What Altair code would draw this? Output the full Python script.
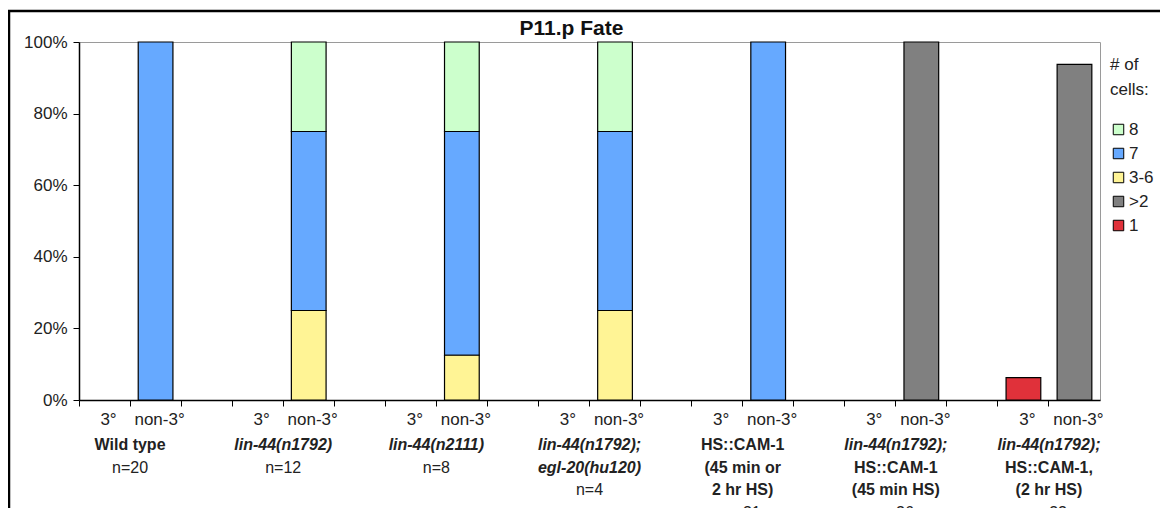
import altair as alt
import pandas as pd

# ---------------- data ----------------
groups = ["Wild type", "lin-44(n1792)", "lin-44(n2111)",
          "lin-44(n1792); egl-20(hu120)", "HS::CAM-1 (45 min or 2 hr HS)",
          "lin-44(n1792); HS::CAM-1 (45 min HS)", "lin-44(n1792); HS::CAM-1, (2 hr HS)"]
positions = ["3°", "non-3°"]

# shares per bar, ordered group by group: [3°, non-3°]
share_8   = [0, 0,    0, 0.25,  0, 0.25,  0, 0.25,  0, 0,    0, 0,    0,      0]
share_7   = [0, 1.0,  0, 0.50,  0, 0.625, 0, 0.50,  0, 1.0,  0, 0,    0,      0]
share_3_6 = [0, 0,    0, 0.25,  0, 0.125, 0, 0.25,  0, 0,    0, 0,    0,      0]
share_gt2 = [0, 0,    0, 0,     0, 0,     0, 0,     0, 0,    0, 1.0,  0,      0.9375]
share_1   = [0, 0,    0, 0,     0, 0,     0, 0,     0, 0,    0, 0,    0.0625, 0]

cell_classes = ["8", "7", "3-6", ">2", "1"]
class_colors = ["#CCFFCC", "#66A9FF", "#FFF495", "#808080", "#E0313A"]
stack_rank = {"1": 0, ">2": 1, "3-6": 2, "7": 3, "8": 4}

# label lines under each group: (group index, line number, text, style)
label_group = [0, 0, 1, 1, 2, 2, 3, 3, 3, 4, 4, 4, 4, 5, 5, 5, 5, 6, 6, 6, 6]
label_line  = [0, 1, 0, 1, 0, 1, 0, 1, 2, 0, 1, 2, 3, 0, 1, 2, 3, 0, 1, 2, 3]
label_text  = ["Wild type", "n=20",
               "lin-44(n1792)", "n=12",
               "lin-44(n2111)", "n=8",
               "lin-44(n1792);", "egl-20(hu120)", "n=4",
               "HS::CAM-1", "(45 min or", "2 hr HS)", "n=31",
               "lin-44(n1792);", "HS::CAM-1", "(45 min HS)", "n=26",
               "lin-44(n1792);", "HS::CAM-1,", "(2 hr HS)", "n=32"]
label_style = ["b", "n",
               "bi", "n",
               "bi", "n",
               "bi", "bi", "n",
               "b", "b", "b", "n",
               "bi", "b", "b", "n",
               "bi", "b", "b", "n"]

# ---------------- tables ----------------
slots = []
for i in range(len(groups)):
    slots += [f"g{i}_a", f"g{i}_b"]
    if i < len(groups) - 1:
        slots.append(f"g{i}_c")

series = {"8": share_8, "7": share_7, "3-6": share_3_6, ">2": share_gt2, "1": share_1}
rows = []
for cls, vals in series.items():
    for idx, v in enumerate(vals):
        if v > 0:
            g, j = divmod(idx, 2)
            rows.append({"slot": f"g{g}_{'ab'[j]}", "cls": cls, "share": v,
                         "rank": stack_rank[cls]})
bars_df = pd.DataFrame(rows)

labels_df = pd.DataFrame({
    "slot": [f"g{g}_b" for g in label_group],
    "line": label_line,
    "text": label_text,
    "style": label_style,
})

FONT = "Liberation Sans"
xscale = alt.Scale(domain=slots, paddingInner=0, paddingOuter=0)

label_expr = ("indexof(datum.value, '_a') >= 0 ? '3°' : "
              "(indexof(datum.value, '_b') >= 0 ? 'non-3°' : '')")

xaxis = alt.Axis(title=None, bandPosition=0, labelExpr=label_expr, labelAngle=0,
                 labelFontSize=17, labelFont=FONT, labelColor="#222",
                 labelPadding=5, labelOffset=4, labelOverlap=False, labelBound=False,
                 tickSize=6, tickColor="black", domainColor="black",
                 domainWidth=1.5)

bars = alt.Chart(bars_df).mark_bar(
    width=alt.RelativeBandSize(0.68), stroke="black", strokeWidth=1.2
).encode(
    x=alt.X("slot:N", scale=xscale, sort=slots, axis=xaxis),
    y=alt.Y("share:Q", stack="zero", scale=alt.Scale(domain=[0, 1], nice=False),
            axis=alt.Axis(title=None, format="%", values=[0, 0.2, 0.4, 0.6, 0.8, 1],
                          labelFontSize=17, labelFont=FONT, labelColor="#222",
                          labelPadding=6, tickSize=6, tickColor="black",
                          domainColor="black", domainWidth=1.5, grid=False)),
    color=alt.Color("cls:N", scale=alt.Scale(domain=cell_classes, range=class_colors),
                    legend=alt.Legend(title=["# of", "cells:"], orient="none",
                                      legendX=1031, legendY=15,
                                      symbolType="square", symbolSize=110,
                                      symbolStrokeColor="black", symbolStrokeWidth=1,
                                      labelFontSize=17, labelFont=FONT,
                                      labelColor="#222", titleFontSize=17,
                                      titleFont=FONT, titleFontWeight="normal",
                                      titleColor="#222", titleLineHeight=25,
                                      titlePadding=22, rowPadding=6,
                                      labelOffset=2)),
    order=alt.Order("rank:Q", sort="ascending"),
)

yline = alt.Scale(domain=[0, 3], range=[403, 470.5])


def text_layer(style, weight, fstyle):
    return alt.Chart(labels_df).transform_filter(
        alt.datum.style == style
    ).mark_text(
        font=FONT, fontSize=16, fontWeight=weight, fontStyle=fstyle,
        color="#222", baseline="middle", align="center"
    ).encode(
        x=alt.X("slot:N", scale=xscale, sort=slots, bandPosition=0, axis=xaxis),
        y=alt.Y("line:Q", scale=yline, axis=None),
        text="text:N",
    )


# outer chart border (Excel chart-area frame), extends past right/bottom edges
frame = alt.Chart(pd.DataFrame({"k": [0]})).mark_rect(
    fillOpacity=0, stroke="black", strokeWidth=2.5
).encode(
    x=alt.value(-70), x2=alt.value(1200), y=alt.value(-31), y2=alt.value(600)
)

chart = alt.layer(
    bars,
    text_layer("bi", "bold", "italic"),
    text_layer("b", "bold", "normal"),
    text_layer("n", "normal", "normal"),
    frame,
).resolve_scale(y="independent").properties(
    width=1021, height=358,
    autosize=alt.AutoSizeParams(type="none"),
    padding={"left": 71, "top": 34, "right": 60, "bottom": 108},
    title=alt.TitleParams("P11.p Fate", font=FONT, fontSize=21, fontWeight="bold",
                          color="#111", anchor="middle", frame="group", dx=-18,
                          offset=-29),
).configure_view(stroke="#9a9a9a", strokeWidth=1)

chart.save("out.html", embed_options={"renderer": "svg", "actions": False})
